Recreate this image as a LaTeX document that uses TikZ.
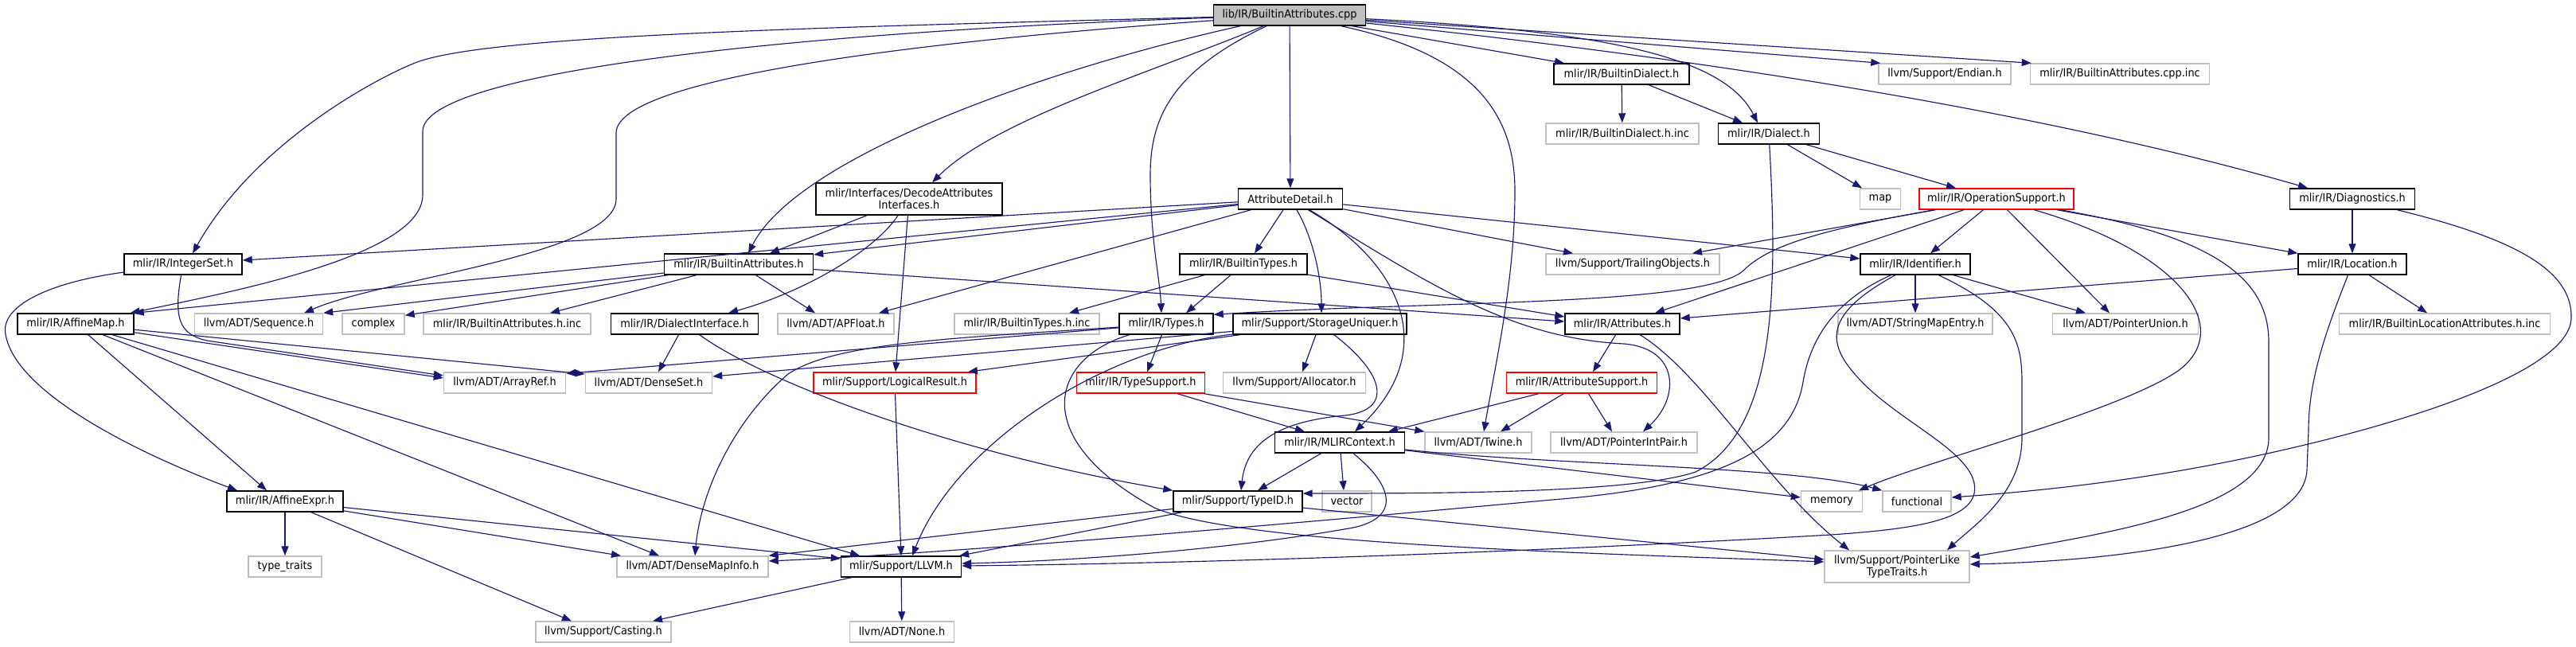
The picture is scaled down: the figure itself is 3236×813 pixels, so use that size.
\documentclass[tikz,border=0pt]{standalone}
\usepackage{fontspec}
\setmainfont{DejaVu Sans}[FakeStretch=0.92]
\usetikzlibrary{arrows.meta}
\definecolor{edgec}{HTML}{191970}
\definecolor{gbord}{HTML}{BFBFBF}
\newcommand{\dxfont}{\fontsize{14pt}{15pt}\selectfont}
\tikzset{
  nb/.style={draw=black, line width=1.4pt, fill=white, minimum height=26pt, inner sep=0pt, font=\dxfont, align=center},
  ng/.style={nb, draw=gbord},
  nr/.style={nb, draw=red},
  nroot/.style={nb, fill=gbord},
  dep/.style={draw=edgec, line width=1.15pt, -{Triangle[length=12pt,width=9pt]}},
}
\begin{document}
\begin{tikzpicture}[x=1pt,y=-1pt]
\useasboundingbox (0,0) rectangle (3236,813);
% ---------- nodes ----------
\node[nroot, minimum width=191pt] (root) at (1620,19) {lib/IR/BuiltinAttributes.cpp};
\node[nb, minimum width=170pt] (bdial) at (2037,93) {mlir/IR/BuiltinDialect.h};
\node[ng, minimum width=166pt] (endian) at (2443,93) {llvm/Support/Endian.h};
\node[ng, minimum width=225pt] (cppinc) at (2663,93) {mlir/IR/BuiltinAttributes.cpp.inc};
\node[ng, minimum width=192pt] (bdialinc) at (2038,168) {mlir/IR/BuiltinDialect.h.inc};
\node[nb, minimum width=127pt] (dialect) at (2222,168) {mlir/IR/Dialect.h};
\node[nb, minimum width=234pt, minimum height=40pt] (decode) at (1142,250) {mlir/Interfaces/DecodeAttributes\\Interfaces.h};
\node[nb, minimum width=131pt] (attrdet) at (1621,250) {AttributeDetail.h};
\node[ng, minimum width=51pt] (map) at (2362,250) {map};
\node[nr, minimum width=194pt] (opsup) at (2508,250) {mlir/IR/OperationSupport.h};
\node[nb, minimum width=157pt] (diag) at (2955,250) {mlir/IR/Diagnostics.h};
\node[nb, minimum width=148pt] (intset) at (230,332) {mlir/IR/IntegerSet.h};
\node[nb, minimum width=187pt] (battr) at (928,332) {mlir/IR/BuiltinAttributes.h};
\node[nb, minimum width=160pt] (btypes) at (1562,332) {mlir/IR/BuiltinTypes.h};
\node[ng, minimum width=218pt] (trail) at (2051,332) {llvm/Support/TrailingObjects.h};
\node[nb, minimum width=138pt] (ident) at (2406,332) {mlir/IR/Identifier.h};
\node[nb, minimum width=136pt] (loc) at (2955,332) {mlir/IR/Location.h};
\node[nb, minimum width=146pt] (affmap) at (95,407) {mlir/IR/AffineMap.h};
\node[ng, minimum width=161pt] (seq) at (325,407) {llvm/ADT/Sequence.h};
\node[ng, minimum width=78pt] (complex) at (469,407) {complex};
\node[ng, minimum width=210pt] (battrinc) at (637,407) {mlir/IR/BuiltinAttributes.h.inc};
\node[nb, minimum width=185pt] (dialif) at (860,407) {mlir/IR/DialectInterface.h};
\node[ng, minimum width=146pt] (apfloat) at (1050,407) {llvm/ADT/APFloat.h};
\node[ng, minimum width=182pt] (btypesinc) at (1290,407) {mlir/IR/BuiltinTypes.h.inc};
\node[nb, minimum width=118pt] (types) at (1465,407) {mlir/IR/Types.h};
\node[nb, minimum width=218pt] (stuniq) at (1658,407) {mlir/Support/StorageUniquer.h};
\node[nb, minimum width=144pt] (attrs) at (2038,407) {mlir/IR/Attributes.h};
\node[ng, minimum width=194pt] (smentry) at (2406,407) {llvm/ADT/StringMapEntry.h};
\node[ng, minimum width=183pt] (punion) at (2670,407) {llvm/ADT/PointerUnion.h};
\node[ng, minimum width=265pt] (blocinc) at (3071,407) {mlir/IR/BuiltinLocationAttributes.h.inc};
\node[ng, minimum width=153pt] (arrayref) at (634,481) {llvm/ADT/ArrayRef.h};
\node[ng, minimum width=159pt] (denseset) at (815,481) {llvm/ADT/DenseSet.h};
\node[nr, minimum width=204pt] (logres) at (1124,481) {mlir/Support/LogicalResult.h};
\node[nr, minimum width=161pt] (typesup) at (1433,481) {mlir/IR/TypeSupport.h};
\node[ng, minimum width=179pt] (alloc) at (1626,481) {llvm/Support/Allocator.h};
\node[nr, minimum width=189pt] (attrsup) at (1987,481) {mlir/IR/AttributeSupport.h};
\node[nb, minimum width=163pt] (mlirctx) at (1683,556) {mlir/IR/MLIRContext.h};
\node[ng, minimum width=134pt] (twine) at (1857,556) {llvm/ADT/Twine.h};
\node[ng, minimum width=184pt] (pip) at (2040,556) {llvm/ADT/PointerIntPair.h};
\node[nb, minimum width=146pt] (affexpr) at (358,630) {mlir/IR/AffineExpr.h};
\node[nb, minimum width=162pt] (typeid) at (1555,630) {mlir/Support/TypeID.h};
\node[ng, minimum width=62pt] (vector) at (1692,630) {vector};
\node[ng, minimum width=77pt] (memory) at (2301,630) {memory};
\node[ng, minimum width=86pt] (functional) at (2408,630) {functional};
\node[ng, minimum width=92pt] (typetraits) at (358,712) {type\_traits};
\node[ng, minimum width=190pt] (dmi) at (870,712) {llvm/ADT/DenseMapInfo.h};
\node[nb, minimum width=151pt] (llvm) at (1132,712) {mlir/Support/LLVM.h};
\node[ng, minimum width=182pt, minimum height=40pt] (plike) at (2383,712) {llvm/Support/PointerLike\\TypeTraits.h};
\node[ng, minimum width=170pt] (casting) at (758,794) {llvm/Support/Casting.h};
\node[ng, minimum width=131pt] (none) at (1133,794) {llvm/ADT/None.h};
% ---------- edges: root ----------
\draw[dep] (root) .. controls (1000,35) and (600,45) .. (519,80) .. controls (470,100) and (320,180) .. ([xshift=12pt]intset.north);
\draw[dep] (root) .. controls (1000,40) and (531,90) .. (531,165) -- (531,245) .. controls (531,320) and (300,365) .. ([xshift=-5pt]affmap.north east);
\draw[dep] (root) .. controls (1250,45) and (774,90) .. (774,167) -- (774,250) .. controls (774,320) and (480,350) .. ([xshift=57pt]seq.north);
\draw[dep] (root) .. controls (1300,90) and (1000,200) .. ([xshift=12pt]battr.north);
\draw[dep] (root) .. controls (1450,90) and (1250,150) .. ([xshift=29pt]decode.north);
\draw[dep] (root) .. controls (1470,90) and (1445,150) .. (1445,220) .. controls (1445,300) and (1457,350) .. ([xshift=-6pt]types.north);
\draw[dep] (root) -- (attrdet);
\draw[dep] (root) .. controls (1860,70) and (1903,150) .. (1903,240) .. controls (1903,350) and (1880,450) .. ([xshift=7pt]twine.north);
\draw[dep] (root) -- ([xshift=-72pt]bdial.north);
\draw[dep] (root) .. controls (2050,40) and (2170,80) .. ([xshift=-14pt]dialect.north);
\draw[dep] (root) -- ([xshift=3pt]endian.north west);
\draw[dep] (root) -- ([xshift=2pt]cppinc.north west);
\draw[dep] (root) .. controls (2200,80) and (2600,150) .. ([xshift=-56pt]diag.north);
% ---------- decode ----------
\draw[dep] (decode) -- ([xshift=39pt]battr.north);
\draw[dep] (decode) .. controls (1095,320) and (1000,370) .. ([xshift=55pt]dialif.north);
\draw[dep] (decode) -- ([xshift=1pt]logres.north);
% ---------- attribute detail ----------
\draw[dep] (attrdet) -- ([yshift=5pt]intset.east);
\draw[dep] (attrdet) -- (affmap.north east);
\draw[dep] (attrdet) -- ([yshift=12pt]battr.east);
\draw[dep] (attrdet) -- ([xshift=54pt]apfloat.north);
\draw[dep] (attrdet) -- ([xshift=14pt]btypes.north);
\draw[dep] (attrdet) .. controls (1650,300) and (1660,350) .. ([xshift=2pt]stuniq.north);
\draw[dep] (attrdet) .. controls (1760,330) and (1810,440) .. ([xshift=19pt]mlirctx.north);
\draw[dep] (attrdet) .. controls (1800,360) and (1900,425) .. (2040,432) .. controls (2110,438) and (2110,500) .. ([xshift=24pt]pip.north);
\draw[dep] (attrdet) -- ([xshift=-75pt]trail.north);
\draw[dep] (attrdet) -- ([yshift=7pt]ident.west);
% ---------- builtin types ----------
\draw[dep] (btypes) -- ([xshift=53pt]btypesinc.north);
\draw[dep] (btypes) -- ([xshift=25pt]types.north);
\draw[dep] (btypes) -- ([yshift=9pt]attrs.west);
% ---------- builtin attributes ----------
\draw[dep] (battr) -- (seq.north east);
\draw[dep] (battr) -- ([yshift=-3pt]complex.north east);
\draw[dep] (battr) -- ([xshift=54pt]battrinc.north);
\draw[dep] (battr) -- ([xshift=-26pt]apfloat.north);
\draw[dep] (battr) -- ([yshift=3pt]attrs.west);
% ---------- integer set ----------
\draw[dep] (intset) .. controls (60,355) and (0,385) .. (7,420) .. controls (20,500) and (200,580) .. ([xshift=-60pt]affexpr.north);
\draw[dep] (intset) .. controls (218,400) and (225,420) .. (260,428) -- ([yshift=9pt]arrayref.west);
% ---------- affine map ----------
\draw[dep] (affmap) -- ([yshift=6pt]arrayref.west);
\draw[dep] (affmap) -- ([yshift=11pt]denseset.west);
\draw[dep] (affmap) -- ([xshift=-23pt]affexpr.north);
\draw[dep] (affmap) -- ([xshift=-42pt]dmi.north);
\draw[dep] (affmap) -- ([xshift=-52pt]llvm.north);
% ---------- affine expr ----------
\draw[dep] (affexpr) -- (typetraits);
\draw[dep] (affexpr) -- ([xshift=-90pt]dmi.north);
\draw[dep] (affexpr) -- ([yshift=10pt]llvm.west);
\draw[dep] (affexpr) -- ([xshift=-40pt]casting.north);
% ---------- llvm ----------
\draw[dep] (llvm) -- ([xshift=62pt]casting.north);
\draw[dep] (llvm) -- (none);
% ---------- dialect interface ----------
\draw[dep] (dialif) -- ([xshift=12pt]denseset.north);
\draw[dep] (dialif) .. controls (960,480) and (1200,570) .. (typeid.north west);
% ---------- types ----------
\draw[dep] (types) -- ([xshift=8pt]typesup.north);
\draw[dep] (types) -- ([yshift=-2pt]arrayref.north east);
\draw[dep] (types) .. controls (1200,425) and (1050,430) .. (990,470) .. controls (920,530) and (880,620) .. ([xshift=3pt]dmi.north);
\draw[dep] (types) .. controls (1320,450) and (1290,550) .. (1450,638) .. controls (1560,685) and (2000,695) .. ([yshift=6pt]plike.west);
% ---------- storage uniquer ----------
\draw[dep] (stuniq) -- ([yshift=8pt]denseset.east);
\draw[dep] (stuniq) -- ([xshift=92pt]logres.north);
\draw[dep] (stuniq) .. controls (1380,440) and (1200,560) .. ([xshift=14pt]llvm.north);
\draw[dep] (stuniq) -- ([xshift=10pt]alloc.north);
\draw[dep] (stuniq) .. controls (1740,470) and (1750,515) .. (1690,522) .. controls (1600,530) and (1565,560) .. ([xshift=4pt]typeid.north);
% ---------- attributes ----------
\draw[dep] (attrs) -- ([xshift=14pt]attrsup.north);
\draw[dep] (attrs) .. controls (2140,470) and (2220,610) .. ([xshift=-60pt]plike.north);
% ---------- type support / attribute support ----------
\draw[dep] (typesup) -- ([xshift=-44pt]mlirctx.north);
\draw[dep] (typesup) -- (twine.north west);
\draw[dep] (attrsup) -- ([xshift=61pt]mlirctx.north);
\draw[dep] (attrsup) -- ([xshift=28pt]twine.north);
\draw[dep] (attrsup) -- ([xshift=-15pt]pip.north);
% ---------- mlir context ----------
\draw[dep] (mlirctx) -- ([xshift=25pt]typeid.north);
\draw[dep] (mlirctx) -- ([xshift=-4pt]vector.north);
\draw[dep] (mlirctx) .. controls (1750,610) and (1760,650) .. (1700,663) .. controls (1550,690) and (1350,705) .. ([yshift=4pt]llvm.east);
\draw[dep] (mlirctx) -- ([yshift=5pt]memory.west);
\draw[dep] (mlirctx) .. controls (1950,585) and (2250,585) .. (functional.north west);
% ---------- type id ----------
\draw[dep] (typeid) -- (dmi.north east);
\draw[dep] (typeid) -- ([xshift=-3pt]llvm.north east);
\draw[dep] (typeid) -- ([yshift=9pt]plike.west);
% ---------- dialect ----------
\draw[dep] (dialect) -- ([xshift=-23pt]map.north);
\draw[dep] (dialect) -- ([xshift=-51pt]opsup.north);
\draw[dep] (dialect) .. controls (2232,350) and (2235,540) .. (2130,593) .. controls (2050,620) and (1800,620) .. ([yshift=10pt]typeid.east);
\draw[dep] (bdial) -- (bdialinc);
\draw[dep] (bdial) -- ([xshift=-33pt]dialect.north);
% ---------- operation support ----------
\draw[dep] (opsup) -- ([xshift=75pt]trail.north);
\draw[dep] (opsup) .. controls (2280,290) and (2220,310) .. (2190,340) .. controls (2140,385) and (1800,378) .. ([yshift=-2pt]types.north east);
\draw[dep] (opsup) -- ([xshift=41pt]attrs.north);
\draw[dep] (opsup) -- ([xshift=19pt]ident.north);
\draw[dep] (opsup) -- ([xshift=-20pt]punion.north);
\draw[dep] (opsup) -- (loc.north west);
\draw[dep] (opsup) .. controls (2750,320) and (2810,420) .. (2730,470) .. controls (2650,520) and (2420,580) .. ([xshift=34pt]memory.north);
\draw[dep] (opsup) .. controls (2800,300) and (2850,360) .. (2850,430) -- (2850,550) .. controls (2850,640) and (2650,670) .. ([yshift=12pt]plike.east);
% ---------- diagnostics / location ----------
\draw[dep] (diag) -- (loc);
\draw[dep] (diag) .. controls (3160,300) and (3232,340) .. (3230,400) .. controls (3228,470) and (3000,540) .. (2800,580) .. controls (2650,610) and (2520,620) .. ([yshift=5pt]functional.east);
\draw[dep] (loc) -- ([yshift=7pt]attrs.east);
\draw[dep] (loc) -- ([xshift=-22pt]blocinc.north);
\draw[dep] (loc) .. controls (2920,420) and (2900,480) .. (2900,540) -- (2898,590) .. controls (2895,680) and (2650,705) .. ([yshift=3pt]plike.east);
% ---------- identifier ----------
\draw[dep] (ident) -- (smentry);
\draw[dep] (ident) -- ([xshift=-50pt]punion.north);
\draw[dep] (ident) .. controls (2530,390) and (2540,430) .. (2540,480) -- (2540,550) .. controls (2540,620) and (2480,660) .. ([xshift=63pt]plike.north);
\draw[dep] (ident) .. controls (2310,375) and (2275,420) .. (2265,480) .. controls (2250,570) and (2150,612) .. (1950,628) .. controls (1600,660) and (1200,695) .. ([yshift=7pt]dmi.east);
\draw[dep] (ident) .. controls (2300,390) and (2290,425) .. (2330,470) .. controls (2380,530) and (2490,570) .. (2480,620) .. controls (2472,655) and (2400,665) .. (2300,672) .. controls (1900,695) and (1500,708) .. ([yshift=1pt]llvm.east);
% ---------- logical result ----------
\draw[dep] (logres) -- (llvm.north);
\end{tikzpicture}
\end{document}
